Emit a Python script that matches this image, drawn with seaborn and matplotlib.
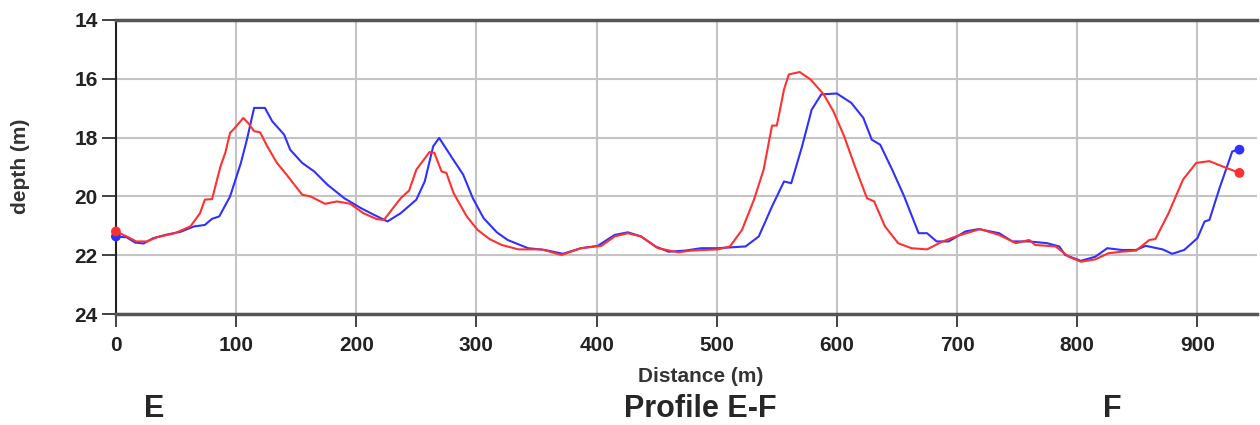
import matplotlib
matplotlib.use('agg')
import matplotlib.pyplot as plt
import pandas as pd
import seaborn as sns

# --- data ---
blue_x = [0, 9, 16, 23, 31, 42, 54, 65, 74, 80, 86, 95, 104, 109, 115, 124, 130, 140, 145, 155,
          165, 176, 190, 204, 215, 226, 237, 250, 257, 264, 269, 279, 289, 297, 306, 317, 326, 343,
          357, 372, 387, 401, 415, 426, 437, 449, 460, 474, 487, 501, 524, 535, 546, 556, 562, 571,
          579, 587, 600, 612, 622, 629, 636, 646, 656, 668, 675, 683, 693, 707, 718, 735, 746, 760,
          775, 785, 790, 803, 815, 825, 837, 849, 857, 871, 879, 889, 900, 906, 910, 918, 929, 935]
blue_depth = [21.36, 21.39, 21.57, 21.6, 21.42, 21.3, 21.2, 21.02, 20.97, 20.76, 20.68, 20.0, 18.86,
              18.07, 16.99, 16.99, 17.44, 17.9, 18.41, 18.86, 19.15, 19.6, 20.06, 20.4, 20.63, 20.85,
              20.57, 20.11, 19.49, 18.3, 18.01, 18.64, 19.26, 20.06, 20.74, 21.22, 21.48, 21.76,
              21.82, 21.95, 21.76, 21.68, 21.31, 21.22, 21.36, 21.7, 21.88, 21.84, 21.76, 21.76,
              21.7, 21.36, 20.34, 19.49, 19.55, 18.3, 17.05, 16.53, 16.5, 16.82, 17.33, 18.07, 18.24,
              19.09, 20.0, 21.25, 21.25, 21.53, 21.53, 21.19, 21.11, 21.25, 21.53, 21.53, 21.59,
              21.7, 21.99, 22.19, 22.05, 21.76, 21.82, 21.82, 21.68, 21.8, 21.95, 21.82, 21.42,
              20.85, 20.8, 19.77, 18.47, 18.41]

red_x = [0, 9, 17, 26, 34, 49, 62, 70, 74, 80, 87, 91, 95, 99, 106, 110, 115, 120, 126, 134, 142,
         155, 162, 174, 184, 195, 206, 217, 223, 237, 244, 250, 261, 265, 271, 275, 281, 292, 301,
         311, 321, 335, 354, 371, 387, 404, 415, 426, 437, 451, 468, 479, 501, 511, 521, 531, 539,
         546, 550, 556, 560, 569, 578, 589, 597, 606, 615, 625, 631, 640, 651, 662, 675, 688, 699,
         719, 735, 749, 760, 765, 782, 793, 803, 815, 826, 837, 849, 860, 865, 876, 888, 899, 910,
         921, 935]
red_depth = [21.19, 21.36, 21.53, 21.53, 21.39, 21.25, 21.02, 20.57, 20.11, 20.09, 18.98, 18.52,
             17.84, 17.67, 17.33, 17.5, 17.78, 17.82, 18.3, 18.86, 19.26, 19.94, 20.0, 20.25, 20.17,
             20.25, 20.57, 20.77, 20.8, 20.06, 19.8, 19.09, 18.49, 18.52, 19.15, 19.2, 19.89, 20.68,
             21.14, 21.45, 21.65, 21.8, 21.8, 21.99, 21.76, 21.68, 21.36, 21.25, 21.36, 21.76, 21.9,
             21.84, 21.8, 21.7, 21.14, 20.11, 19.09, 17.59, 17.59, 16.36, 15.85, 15.77, 16.02,
             16.53, 17.1, 17.95, 18.98, 20.06, 20.17, 21.02, 21.59, 21.76, 21.8, 21.53, 21.36,
             21.11, 21.31, 21.59, 21.48, 21.65, 21.7, 22.05, 22.22, 22.14, 21.93, 21.88, 21.84,
             21.48, 21.45, 20.57, 19.43, 18.86, 18.8, 18.98, 19.2]

x_ticks = [0, 100, 200, 300, 400, 500, 600, 700, 800, 900]
y_ticks = [14, 16, 18, 20, 22, 24]

df = pd.concat([
    pd.DataFrame({'distance': blue_x, 'depth': blue_depth, 'series': 'blue'}),
    pd.DataFrame({'distance': red_x, 'depth': red_depth, 'series': 'red'}),
], ignore_index=True)

# endpoints get a dot
ends = pd.concat([
    df[df['series'] == 'blue'].iloc[[0, -1]],
    df[df['series'] == 'red'].iloc[[0, -1]],
], ignore_index=True)

palette = {'blue': '#3030ff', 'red': '#ff3030'}

sns.set_theme(style='white')
plt.rcParams['font.family'] = ['Liberation Sans', 'DejaVu Sans']

fig = plt.figure(figsize=(12.6, 4.25), dpi=100)
ax = fig.add_axes([0.092, 0.261, 0.906, 0.692])

sns.lineplot(data=df, x='distance', y='depth', hue='series', palette=palette,
             sort=False, estimator=None, linewidth=1.5, legend=False, ax=ax)
pts = sns.scatterplot(data=ends, x='distance', y='depth', hue='series', palette=palette,
                      s=50, edgecolor='none', legend=False, zorder=5, ax=ax)
for coll in ax.collections:
    coll.set_clip_on(False)

ax.set_xlim(0, 950)
ax.set_ylim(24, 14)
ax.set_xticks(x_ticks)
ax.set_yticks(y_ticks)
ax.grid(True, color='#c4c4c4', linewidth=1.5)
ax.set_axisbelow(True)

for lbl in ax.get_xticklabels() + ax.get_yticklabels():
    lbl.set_fontweight('bold')
    lbl.set_fontsize(15)
    lbl.set_color('#222222')
ax.tick_params(axis='x', direction='out', length=9, width=1.3, color='#333333', pad=7, bottom=True)
ax.tick_params(axis='y', direction='out', length=10, width=1.3, color='#333333', pad=3, left=True)

ax.spines['right'].set_visible(False)
ax.spines['left'].set_color('#222222')
ax.spines['left'].set_linewidth(1.5)
for s in ['top', 'bottom']:
    ax.spines[s].set_color('#555555')
    ax.spines[s].set_linewidth(2.5)

ax.set_xlabel('')
ax.set_ylabel('')
fig.text(0.556, 0.113, 'Distance (m)', ha='center', va='center', fontsize=15, fontweight='bold',
         color='#333333')
fig.text(0.016, 0.609, 'depth (m)', ha='center', va='center', rotation=90, fontsize=15,
         fontweight='bold', color='#333333')

fig.text(0.122, 0.038, 'E', ha='center', va='center', fontsize=22, fontweight='bold')
fig.text(0.556, 0.038, 'Profile E-F', ha='center', va='center', fontsize=22, fontweight='bold')
fig.text(0.883, 0.038, 'F', ha='center', va='center', fontsize=22, fontweight='bold')

plt.savefig('out.png', dpi=100)
